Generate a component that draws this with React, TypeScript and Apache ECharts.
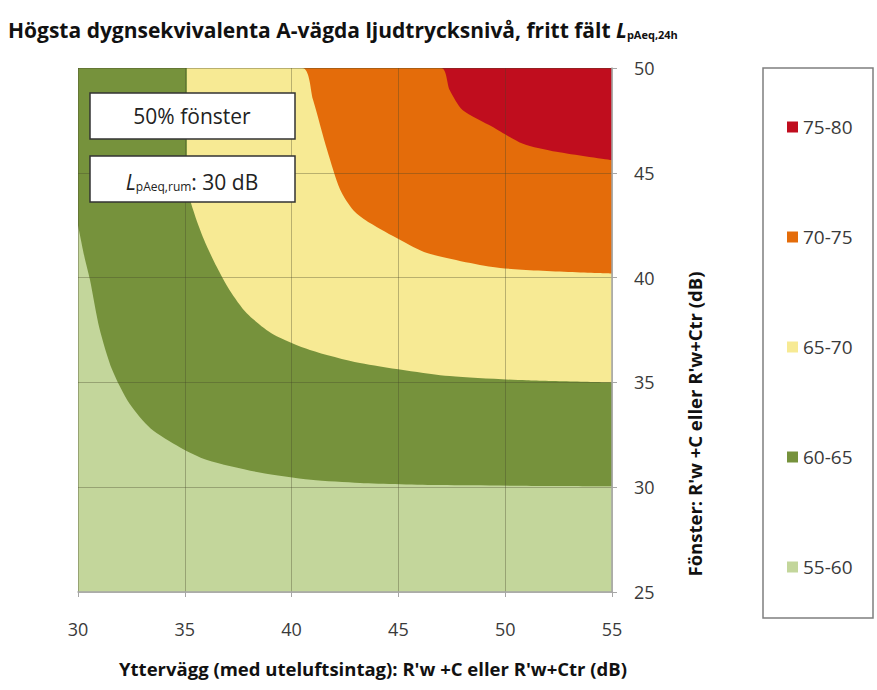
import React, { useEffect, useRef } from "react";
import * as echarts from "echarts";

// Band names (legend order, top to bottom) and their fill colours
const bandNames = ["75-80", "70-75", "65-70", "60-65", "55-60"];
const bandColors = ["#C00D1E", "#E46C0A", "#F7EA94", "#76923C", "#C3D69B"];

// Upper boundary of each band, as [wall dB, window dB] points
const top7580: number[][] = [[30, 50], [55, 50]];
const top7075: number[][] = [
  [30, 50], [47.0, 50], [47.4, 48.95], [48.0, 48.0], [49.4, 47.2],
  [50.8, 46.4], [52.4, 46.0], [55, 45.6],
];
const top6570: number[][] = [
  [30, 50], [40.5, 50], [41.0, 48.5], [41.66, 46.1], [42.27, 44.2],
  [42.9, 43.2], [43.67, 42.6], [45.07, 41.8], [46.34, 41.17],
  [49.76, 40.46], [55, 40.2],
];
const top6065: number[][] = [
  [30, 50], [35.1, 50], [35.1, 44.5], [35.4, 43.2], [35.9, 41.8], [36.5, 40.5],
  [37.1, 39.4], [37.9, 38.3], [39.13, 37.3], [40.86, 36.55],
  [43.2, 35.93], [47.4, 35.3], [51, 35.1], [55, 35.0],
];
const top5560: number[][] = [
  [30, 42.5], [30.3, 41.0], [30.56, 39.9], [31.0, 37.6], [31.6, 35.6],
  [32.4, 34.0], [33.4, 32.8], [34.78, 31.9], [36.04, 31.3], [38.5, 30.7], [40.9, 30.35],
  [43.2, 30.2], [47, 30.1], [55, 30.05],
];
const bandTops = [top7580, top7075, top6570, top6065, top5560];

// Axis ticks
const xMin = 30, xMax = 55, xStep = 5;
const yMin = 25, yMax = 50, yStep = 5;

const titleMain = "Högsta dygnsekvivalenta A-vägda ljudtrycksnivå, fritt fält ";
const titleSub = "pAeq,24h";
const xName = "Yttervägg (med uteluftsintag): R'w +C eller R'w+Ctr (dB)";
const yName = "Fönster: R'w +C eller R'w+Ctr (dB)";
const box1Text = "50% fönster";
const box2Sub = "pAeq,rum";
const box2Text = ": 30 dB";

const FONT = "'Open Sans', Lato, sans-serif";

export default function App() {
  const ref = useRef<HTMLDivElement>(null);
  useEffect(() => {
    if (!ref.current) return;
    const chart = echarts.init(ref.current, undefined, { renderer: "svg" });
    const gridL = 78, gridT = 68, gridR = 612, gridB = 592;
    chart.setOption({
      animation: false,
      textStyle: { fontFamily: FONT },
      grid: { left: gridL, top: gridT, right: 877 - gridR, bottom: 690 - gridB },
      xAxis: {
        type: "value",
        min: xMin, max: xMax, interval: xStep,
        z: 10,
        axisLine: { show: true, lineStyle: { color: "#A6A6A6", width: 1.5 } },
        axisTick: { show: true, length: 5, lineStyle: { color: "#A6A6A6" } },
        axisLabel: { color: "#3a3a3a", fontSize: 18, margin: 28, fontFamily: FONT },
        splitLine: { show: true, lineStyle: { color: "rgba(70,70,40,0.35)", width: 1 } },
      },
      yAxis: {
        type: "value",
        position: "right",
        min: yMin, max: yMax, interval: yStep,
        z: 10,
        axisLine: { show: true, lineStyle: { color: "#A6A6A6", width: 1.5 } },
        axisTick: { show: true, length: 5, lineStyle: { color: "#A6A6A6" } },
        axisLabel: { color: "#3a3a3a", fontSize: 18, margin: 22, fontFamily: FONT },
        splitLine: { show: true, lineStyle: { color: "rgba(70,70,40,0.35)", width: 1 } },
      },
      legend: {
        orient: "vertical",
        left: 782,
        top: 111,
        itemWidth: 11,
        itemHeight: 11,
        itemGap: 88,
        icon: "rect",
        selectedMode: false,
        data: bandNames,
        textStyle: { fontSize: 19, color: "#3a3a3a", fontFamily: FONT, lineHeight: 22 },
      },
      series: bandNames.map((name, i) => ({
        name,
        type: "line",
        data: bandTops[i],
        showSymbol: false,
        symbol: "none",
        smooth: 0.25,
        lineStyle: { width: 0 },
        itemStyle: { color: bandColors[i] },
        areaStyle: { color: bandColors[i], opacity: 1, origin: "start" },
        z: 2,
      })),
      graphic: [
        {
          type: "text",
          left: 8,
          top: 19,
          style: {
            text: `{m|${titleMain}}{L|L}{s|${titleSub}}`,
            rich: {
              m: { fontSize: 21, fontWeight: "bold", fontFamily: FONT, fill: "#111", lineHeight: 26, verticalAlign: "bottom" },
              L: { fontSize: 21, fontWeight: "bold", fontStyle: "italic", fontFamily: FONT, fill: "#111", lineHeight: 26, verticalAlign: "bottom" },
              s: { fontSize: 11, fontWeight: "bold", fontFamily: FONT, fill: "#111", lineHeight: 26, verticalAlign: "bottom", padding: [8, 0, 0, 0] },
            },
          },
        },
        {
          type: "rect",
          shape: { x: 90, y: 93, width: 205, height: 46 },
          style: { fill: "#fff", stroke: "#333", lineWidth: 1.5 },
          z: 20,
        },
        {
          type: "text",
          x: 192, y: 116, z: 21,
          style: {
            text: box1Text, fontSize: 21, fontFamily: FONT, fill: "#222",
            align: "center", verticalAlign: "middle",
          },
        },
        {
          type: "rect",
          shape: { x: 90, y: 156, width: 205, height: 46 },
          style: { fill: "#fff", stroke: "#333", lineWidth: 1.5 },
          z: 20,
        },
        {
          type: "text",
          x: 192, y: 179, z: 21,
          style: {
            text: `{L|L}{s|${box2Sub}}{m|${box2Text}}`,
            align: "center", verticalAlign: "middle",
            rich: {
              L: { fontSize: 21, fontStyle: "italic", fontFamily: FONT, fill: "#222", lineHeight: 26, verticalAlign: "bottom" },
              s: { fontSize: 12, fontFamily: FONT, fill: "#222", lineHeight: 26, verticalAlign: "bottom", padding: [8, 0, 0, 0] },
              m: { fontSize: 21, fontFamily: FONT, fill: "#222", lineHeight: 26, verticalAlign: "bottom" },
            },
          },
        },
        {
          type: "text",
          x: 373, y: 668,
          style: {
            text: xName, fontSize: 18.5, fontWeight: "bold", fontFamily: FONT, fill: "#111",
            align: "center", verticalAlign: "middle",
          },
        },
        {
          type: "text",
          x: 694, y: 424, rotation: Math.PI / 2,
          style: {
            text: yName, fontSize: 18.5, fontWeight: "bold", fontFamily: FONT, fill: "#111",
            align: "center", verticalAlign: "middle",
          },
        },
        {
          type: "rect",
          shape: { x: 763, y: 68, width: 110, height: 550 },
          style: { fill: "none", stroke: "#7f7f7f", lineWidth: 1.5 },
          z: -1,
        },
      ],
    });
    return () => chart.dispose();
  }, []);
  return (
    <div
      ref={ref}
      style={{ position: "fixed", left: 0, top: 0, width: 877, height: 690, background: "#fff" }}
    />
  );
}
